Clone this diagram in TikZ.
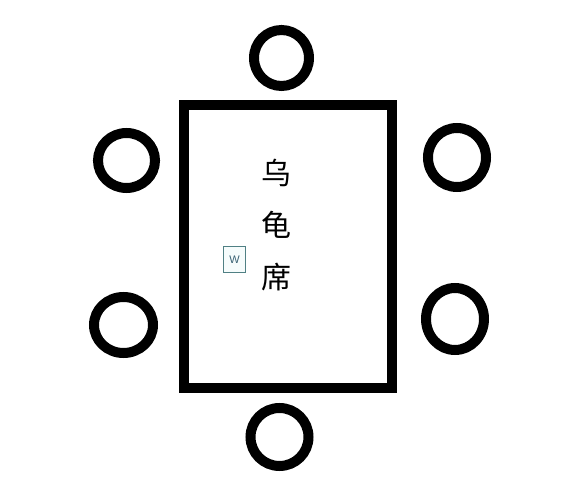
\documentclass[tikz,border=0pt]{standalone}
\usepackage{fontspec}
\newfontfamily\cjk{Noto Sans CJK SC}
\newfontfamily\wfont{Liberation Sans}
\usetikzlibrary{shapes.geometric}
\begin{document}
\begin{tikzpicture}[x=1pt,y=-1pt,
  seat/.style={draw=black, line width=10pt, ellipse, inner sep=0pt, outer sep=0pt},
  tablebox/.style={draw=black, line width=10pt, rectangle, inner sep=0pt, minimum width=208pt, minimum height=283pt},
  marker/.style={draw={rgb,255:red,80;green,128;blue,132}, fill={rgb,255:red,246;green,252;blue,252}, line width=0.8pt, inner sep=0pt, minimum width=22pt, minimum height=26pt, text={rgb,255:red,58;green,98;blue,116}, font=\wfont\fontsize{11}{12}\selectfont}
]
\useasboundingbox (0,0) rectangle (571,502);
\node[tablebox] (table) at (288,247) {};
\node[seat, minimum width=55pt, minimum height=56pt] (top) at (281.5,58) {};
\node[seat, minimum width=58pt, minimum height=58pt] (bottom) at (279.5,437) {};
\node[seat, minimum width=57pt, minimum height=55pt] (lu) at (126.5,160.5) {};
\node[seat, minimum width=59pt, minimum height=56pt] (ll) at (123.5,325) {};
\node[seat, minimum width=58pt, minimum height=59pt] (ru) at (457,157.5) {};
\node[seat, minimum width=58pt, minimum height=62pt] (rl) at (455,319) {};
\node[font=\cjk\fontsize{30}{52}\selectfont, align=center, inner sep=0pt] (title) at (276,225) {乌\\龟\\席};
\node[marker] (w) at (234.5,259.5) {W};
\end{tikzpicture}
\end{document}
